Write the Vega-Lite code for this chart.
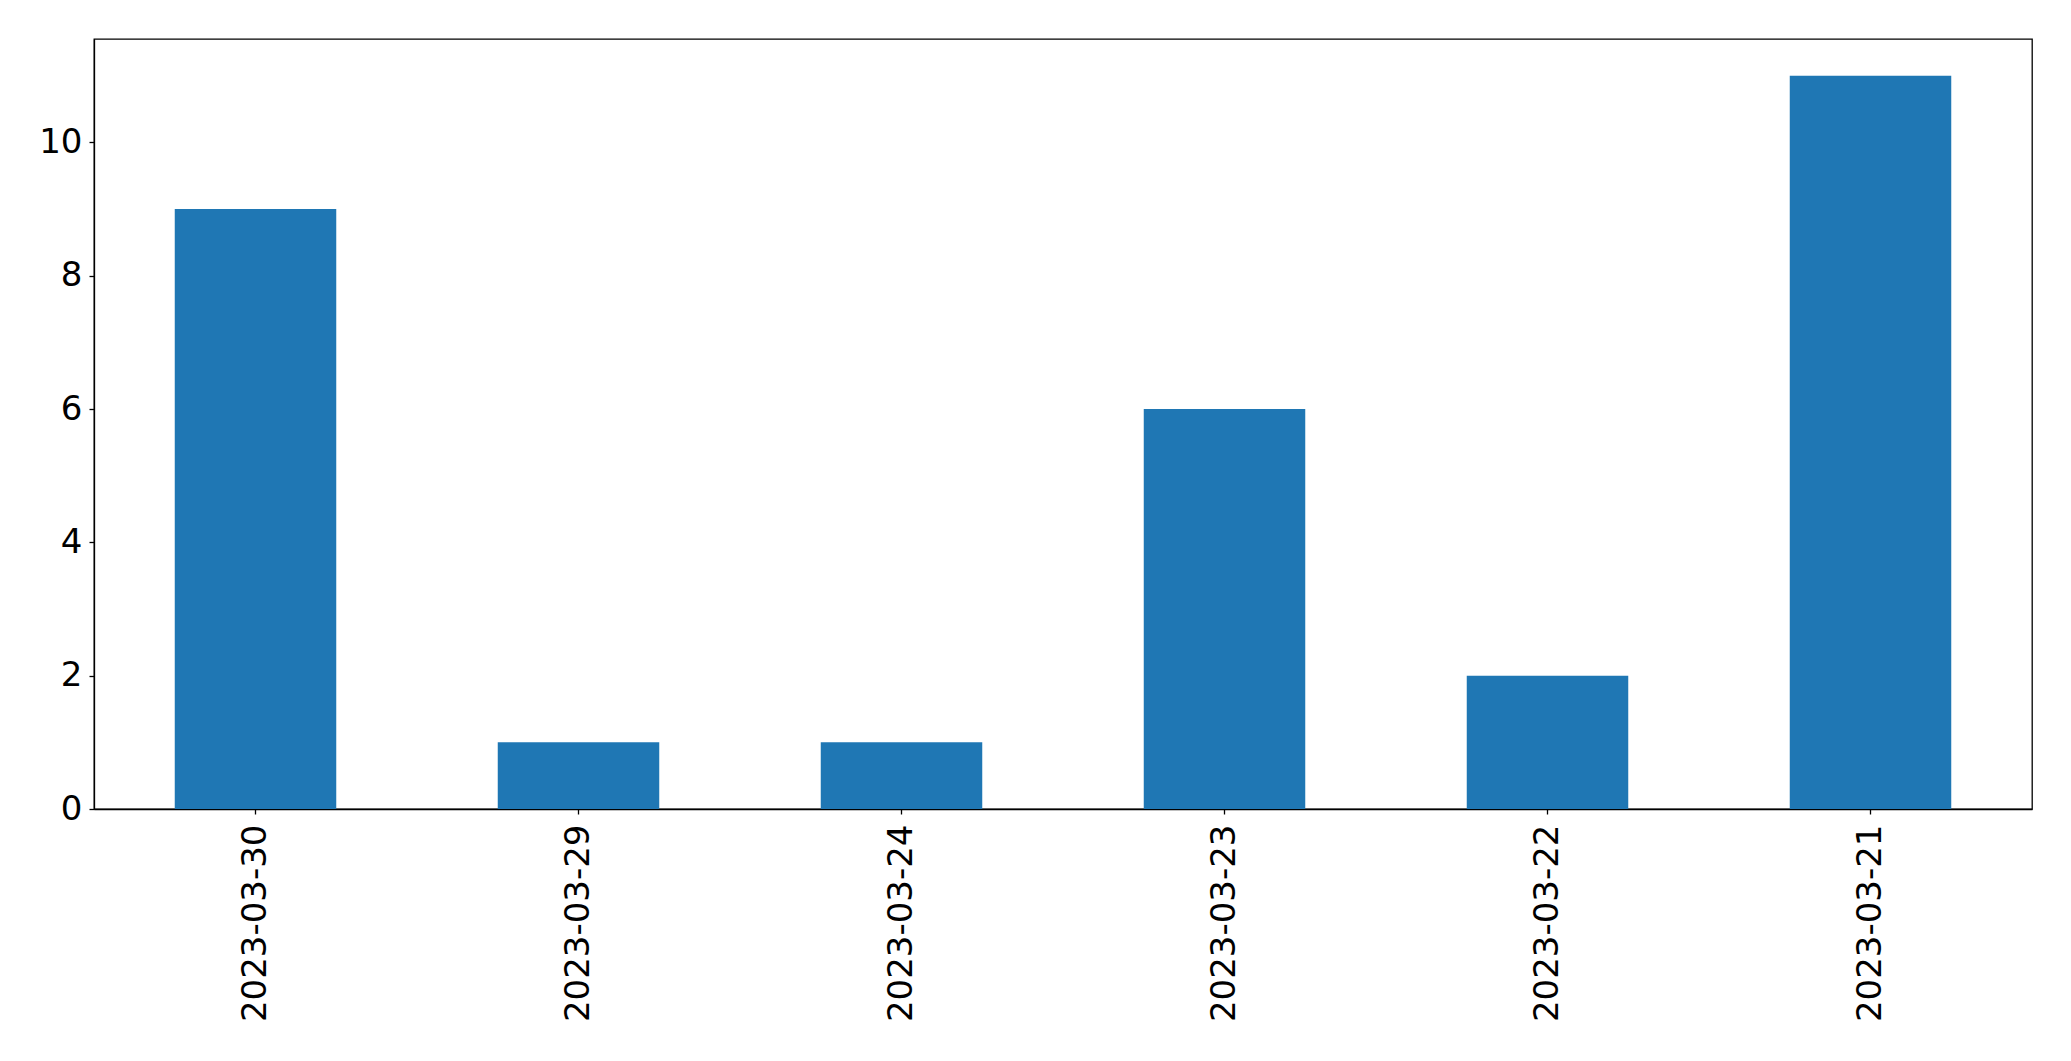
{
  "$schema": "https://vega.github.io/schema/vega-lite/v6.json",
  "width": 1938,
  "height": 770,
  "autosize": {"type": "none"},
  "padding": {"left": 94, "top": 39, "right": 39, "bottom": 252},
  "background": "white",
  "config": {
    "view": {"stroke": "black", "strokeWidth": 1.3},
    "font": "DejaVu Sans"
  },
  "data": {
    "values": [
      {"date": "2023-03-30", "count": 9},
      {"date": "2023-03-29", "count": 1},
      {"date": "2023-03-24", "count": 1},
      {"date": "2023-03-23", "count": 6},
      {"date": "2023-03-22", "count": 2},
      {"date": "2023-03-21", "count": 11}
    ]
  },
  "mark": {"type": "bar", "color": "#1f77b4"},
  "encoding": {
    "x": {
      "field": "date",
      "type": "nominal",
      "sort": null,
      "scale": {"paddingInner": 0.5, "paddingOuter": 0.25},
      "axis": {
        "title": null,
        "labelAngle": -90,
        "labelFont": "DejaVu Sans",
        "labelFontSize": 34,
        "labelColor": "black",
        "labelPadding": 10,
        "labelLimit": 400,
        "tickColor": "black",
        "tickSize": 5,
        "tickWidth": 1.3,
        "domainColor": "black",
        "domainWidth": 1.3,
        "grid": false
      }
    },
    "y": {
      "field": "count",
      "type": "quantitative",
      "scale": {"domain": [0, 11.55], "nice": false, "zero": true},
      "axis": {
        "title": null,
        "values": [0, 2, 4, 6, 8, 10],
        "labelFont": "DejaVu Sans",
        "labelFontSize": 34,
        "labelColor": "black",
        "labelPadding": 7,
        "labelFlush": false,
        "tickColor": "black",
        "tickSize": 5,
        "tickWidth": 1.3,
        "domainColor": "black",
        "domainWidth": 1.3,
        "grid": false
      }
    }
  }
}
